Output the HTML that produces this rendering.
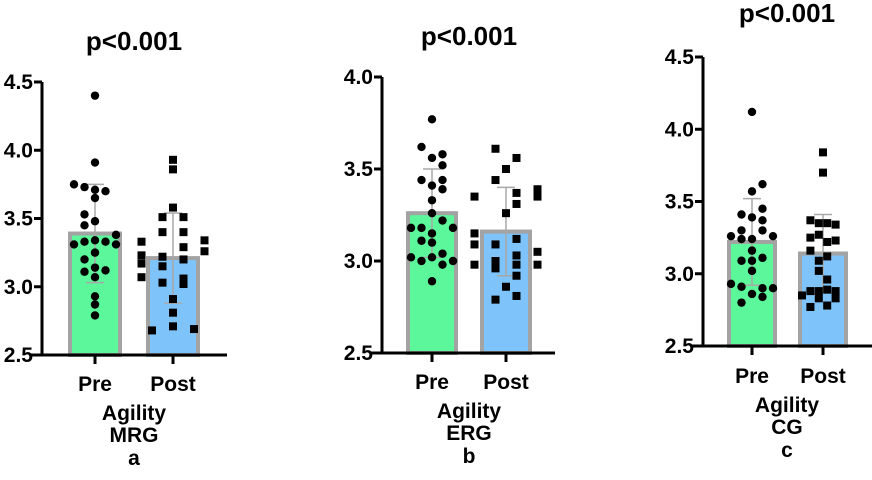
<!DOCTYPE html>
<html><head><meta charset="utf-8"><style>
body{margin:0;background:#fff;}
svg text{font-family:"Liberation Sans",Arial,sans-serif;font-weight:bold;fill:#000;}
</style></head><body>
<svg id="chart" width="872" height="475" viewBox="0 0 872 475" xmlns="http://www.w3.org/2000/svg"></svg>
<script>
const categories = ["Pre","Post"];
const panelTitles = ["p<0.001","p<0.001","p<0.001"];
const groupNames = ["MRG","ERG","CG"];
const panelLetters = ["a","b","c"];
const tickLabelsA = ["2.5","3.0","3.5","4.0","4.5"];
const tickLabelsB = ["2.5","3.0","3.5","4.0"];
const tickLabelsC = ["2.5","3.0","3.5","4.0","4.5"];
const meansA = [3.39, 3.21];
const sdA = [0.36, 0.33];
const meansB = [3.26, 3.16];
const sdB = [0.24, 0.24];
const meansC = [3.22, 3.14];
const sdC = [0.30, 0.27];
const preA = [4.40,3.91,3.75,3.73,3.71,3.70,3.65,3.53,3.48,3.45,3.38,3.31,3.33,3.34,3.33,3.31,3.25,3.20,3.14,3.12,3.11,3.07,2.93,2.87,2.79];
const preAoff = [0,0,-2,-1,0,1,0,-1,0,-1,2,-2,-1,0,1,2,0,-1,0,1,-1,0,0,0,0];
const postA = [3.93,3.86,3.58,3.51,3.51,3.40,3.40,3.33,3.34,3.29,3.26,3.23,3.22,3.20,3.17,3.15,3.06,3.07,3.03,3.02,2.91,2.81,2.68,2.71,2.69];
const postAoff = [0,0,0,-1,1,-1,1,-3,3,1,3,-3,-1,1,-3,-1,1,-3,-1,1,0,0,-2,0,2];
const preB = [3.77,3.62,3.58,3.56,3.52,3.44,3.44,3.41,3.39,3.33,3.26,3.22,3.18,3.18,3.18,3.15,3.11,3.10,3.02,3.04,3.00,3.02,3.00,2.98,2.89];
const preBoff = [0,-1,1,0,1,-1,1,0,1,0,0,1,-2,-1,2,0,-1,0,-2,1,-1,0,2,1,0];
const postB = [3.61,3.56,3.50,3.44,3.35,3.37,3.39,3.35,3.31,3.26,3.09,3.09,3.12,3.05,2.98,3.00,2.96,3.03,2.98,2.98,2.92,2.86,2.79,2.81,3.15];
const postBoff = [-1,1,0,-1,-3,1,3,3,1,0,-3,-1,1,3,-3,-1,-1,1,1,3,1,0,-1,1,-3];
const preC = [4.12,3.62,3.57,3.41,3.39,3.45,3.37,3.26,3.30,3.24,3.30,3.26,3.24,3.16,3.11,3.09,3.02,2.93,2.91,2.90,2.90,2.86,2.84,2.80,3.09];
const preCoff = [0,1,0,-1,0,1,1,-2,-1,0,1,2,-1,0,1,0,0,-2,-1,1,2,0,1,-1,-1];
const postC = [3.84,3.70,3.37,3.35,3.35,3.34,3.25,3.27,3.22,3.23,3.16,3.09,3.12,3.02,2.96,2.85,2.88,2.88,2.89,2.88,2.83,2.83,2.77,2.78];
const postCoff = [0,0,-1.2,-0.4,0.4,1.2,-1.2,-0.4,0.4,1.2,-1.2,-0.4,0.4,-0.4,0.4,-2,-1.2,-0.4,0.4,1.2,-0.4,1.2,-1.2,0.4];

const NS="http://www.w3.org/2000/svg";
const svg=document.getElementById('chart');
function mk(tag,attrs,parent){const e=document.createElementNS(NS,tag);for(const k in attrs)e.setAttribute(k,attrs[k]);(parent||svg).appendChild(e);return e;}

const panels=[
 {ax:42,yTop:82,yBot:355,vmin:2.5,vmax:4.5,ticks:tickLabelsA,xEnd:227,cx:[95,173],bw:50,means:meansA,sd:sdA,pre:preA,preOff:preAoff,post:postA,postOff:postAoff,titleY:50,labY:391,agY:420,title:panelTitles[0],grp:groupNames[0],let:panelLetters[0],mid:134},
 {ax:382,yTop:77,yBot:353,vmin:2.5,vmax:4.0,ticks:tickLabelsB,xEnd:555,cx:[432,506],bw:48,means:meansB,sd:sdB,pre:preB,preOff:preBoff,post:postB,postOff:postBoff,titleY:45,labY:389,agY:418,title:panelTitles[1],grp:groupNames[1],let:panelLetters[1],mid:469},
 {ax:703,yTop:57,yBot:346,vmin:2.5,vmax:4.5,ticks:tickLabelsC,xEnd:872,cx:[752,823],bw:46,means:meansC,sd:sdC,pre:preC,preOff:preCoff,post:postC,postOff:postCoff,titleY:22,labY:383,agY:412,title:panelTitles[2],grp:groupNames[2],let:panelLetters[2],mid:787}
];
panels.forEach((p,pi)=>{
  const g=mk('g',{});
  
  
  const y=v=>p.yBot-(v-p.vmin)/(p.vmax-p.vmin)*(p.yBot-p.yTop);
  const colors=['#5cf79a','#7ec3f9'];
  p.means.forEach((m,i)=>{
    const r=mk('rect',{x:p.cx[i]-p.bw/2,y:y(m),width:p.bw,height:p.yBot-y(m),fill:colors[i],stroke:'#a3a3a3','stroke-width':4},g);
    
    
  });
  p.means.forEach((m,i)=>{
    const eb=mk('g',{stroke:'#a8a8a8','stroke-width':1.5},g);
    
    
    mk('line',{x1:p.cx[i],x2:p.cx[i],y1:y(m+p.sd[i]),y2:y(m-p.sd[i])},eb);
    mk('line',{x1:p.cx[i]-9,x2:p.cx[i]+9,y1:y(m+p.sd[i]),y2:y(m+p.sd[i])},eb);
    mk('line',{x1:p.cx[i]-9,x2:p.cx[i]+9,y1:y(m-p.sd[i]),y2:y(m-p.sd[i])},eb);
  });
  [[p.pre,p.preOff,0],[p.post,p.postOff,1]].forEach(([vals,offs,i])=>{
    vals.forEach((v,k)=>{
      const x=p.cx[i]+offs[k]*10.5;
      let e;
      if(i===0){e=mk('circle',{cx:x,cy:y(v),r:4.2,fill:'#000'},g);}
      else{e=mk('rect',{x:x-4,y:y(v)-4,width:8,height:8,fill:'#000'},g);}
      
      
    });
  });
  const ya=mk('line',{x1:p.ax,x2:p.ax,y1:p.yTop,y2:p.yBot+1.5,stroke:'#000','stroke-width':3},g);
  
  
  const xa=mk('line',{x1:p.ax-12,x2:p.xEnd,y1:p.yBot,y2:p.yBot,stroke:'#000','stroke-width':3},g);
  
  
  p.ticks.forEach(t=>{
    const v=parseFloat(t);
    mk('line',{x1:p.ax-8,x2:p.ax,y1:y(v),y2:y(v),stroke:'#000','stroke-width':3},g);
    const tx=mk('text',{x:p.ax-9,y:y(v)+7,'text-anchor':'end','font-size':21},g);
    tx.textContent=t;
    
    
  });
  categories.forEach((c,i)=>{
    mk('line',{x1:p.cx[i],x2:p.cx[i],y1:p.yBot,y2:p.yBot+9,stroke:'#000','stroke-width':3},g);
    const tx=mk('text',{x:p.cx[i],y:p.labY,'text-anchor':'middle','font-size':21},g);
    tx.textContent=c;
    
    
  });
  const t=mk('text',{x:p.mid,y:p.titleY,'text-anchor':'middle','font-size':26},g);
  t.textContent=p.title;
  
  
  [['Agility',0],[p.grp,22],[p.let,45]].forEach(([s,dy])=>{
    const tx=mk('text',{x:p.mid,y:p.agY+dy,'text-anchor':'middle','font-size':21},g);
    tx.textContent=s;
    
    
  });
});
</script>
</body></html>
